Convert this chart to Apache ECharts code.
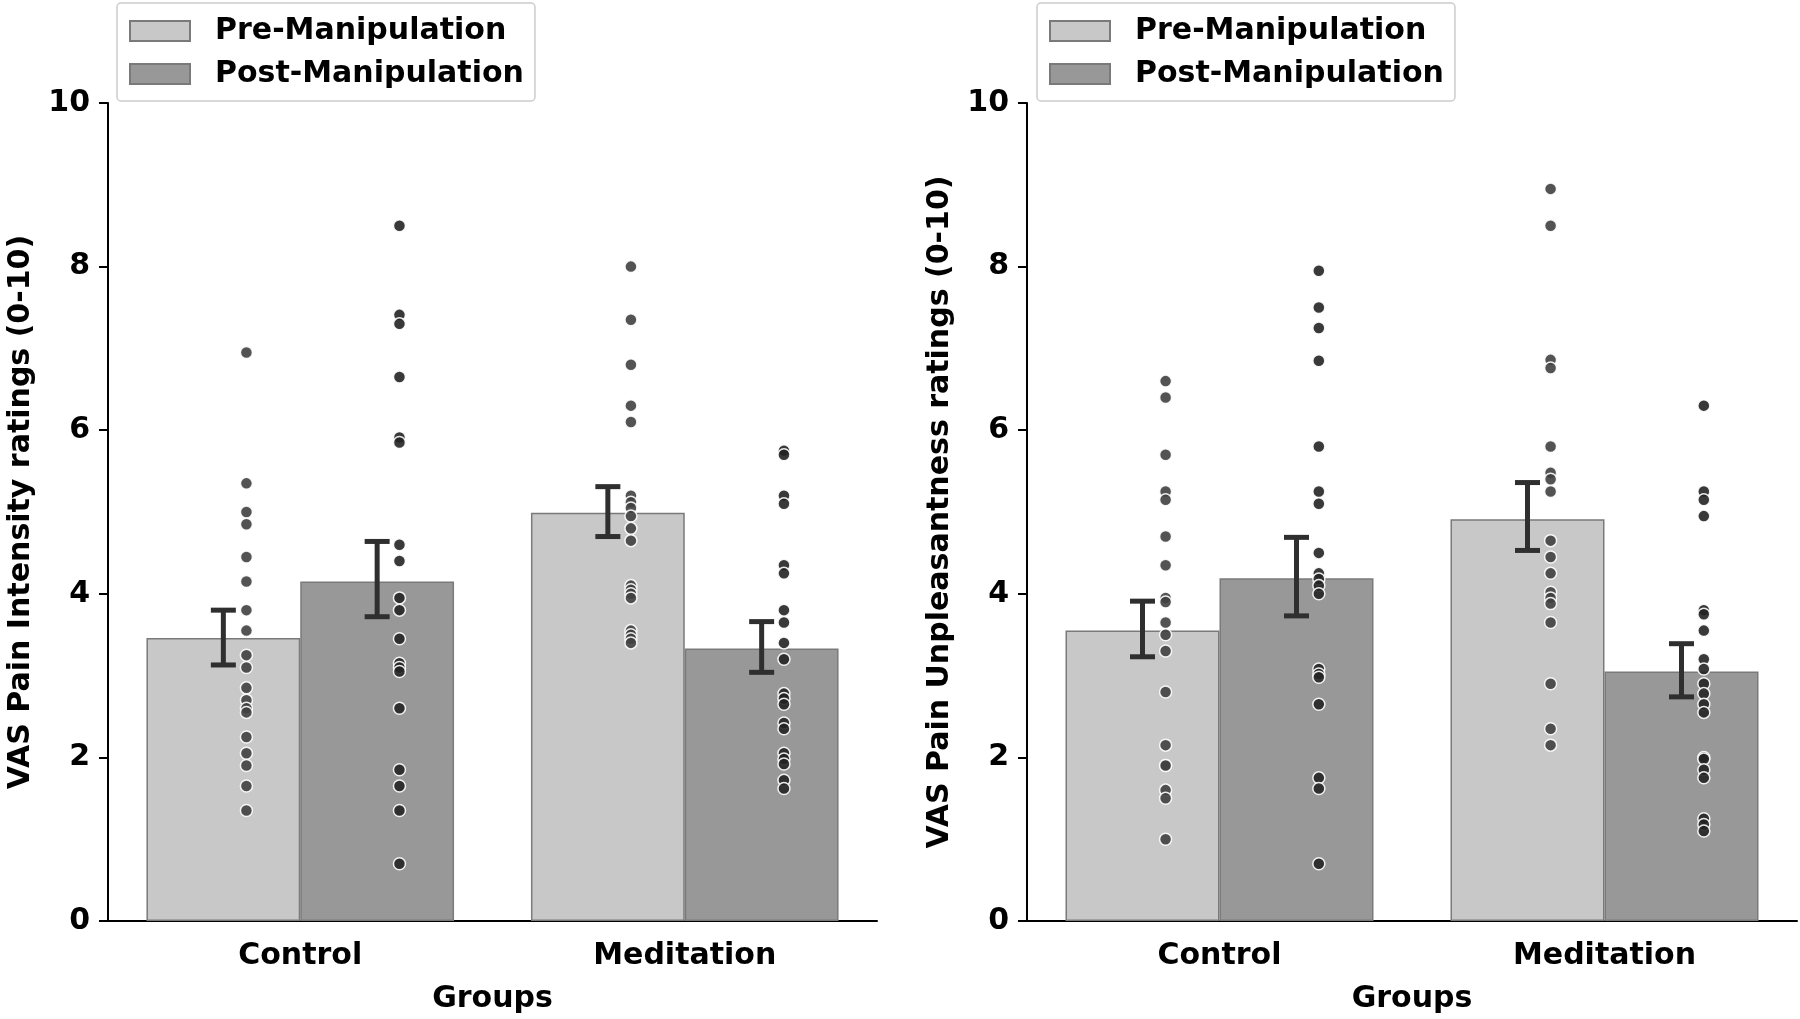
<!DOCTYPE html>
<html>
<head>
<meta charset="utf-8">
<script src="https://cdn.jsdelivr.net/npm/echarts@6/dist/echarts.min.js"></script>
<style>
  html, body { margin: 0; padding: 0; background: #fff; }
  #main { width: 1800px; height: 1019px; }
</style>
</head>
<body>
<div id="main"></div>
<script>
const groups = ['Control', 'Meditation'];
const conditions = ['Pre-Manipulation', 'Post-Manipulation'];
const yTicks = [0, 2, 4, 6, 8, 10];

// VAS pain intensity (left panel)
const intensityPreMean = [3.46, 4.99];
const intensityPostMean = [4.15, 3.33];
const intensityPreErr = [[3.13, 3.80], [4.70, 5.31]];
const intensityPostErr = [[3.72, 4.64], [3.04, 3.66]];
const intensityCtrlPre = [6.95, 5.35, 5.0, 4.85, 4.45, 4.15, 3.8, 3.55, 3.25, 3.1, 2.85, 2.7, 2.6, 2.55, 2.25, 2.05, 1.9, 1.65, 1.35];
const intensityCtrlPost = [8.5, 7.41, 7.3, 6.65, 5.91, 5.85, 4.6, 4.4, 3.95, 3.8, 3.45, 3.15, 3.1, 3.05, 2.6, 1.85, 1.65, 1.35, 0.7];
const intensityMedPre = [8.0, 7.35, 6.8, 6.3, 6.1, 5.2, 5.12, 5.05, 4.95, 4.8, 4.65, 4.1, 4.05, 4.0, 3.95, 3.55, 3.5, 3.45, 3.4];
const intensityMedPost = [5.75, 5.7, 5.2, 5.1, 4.35, 4.25, 3.8, 3.65, 3.4, 3.2, 2.78, 2.72, 2.65, 2.42, 2.35, 2.05, 1.98, 1.92, 1.72, 1.62];

// VAS pain unpleasantness (right panel)
const unpleasPreMean = [3.55, 4.91];
const unpleasPostMean = [4.19, 3.05];
const unpleasPreErr = [[3.23, 3.91], [4.53, 5.36]];
const unpleasPostErr = [[3.73, 4.69], [2.74, 3.39]];
const unpleasCtrlPre = [6.6, 6.4, 5.7, 5.25, 5.15, 4.7, 4.35, 3.95, 3.9, 3.65, 3.5, 3.3, 2.8, 2.15, 1.9, 1.9, 1.6, 1.5, 1.0];
const unpleasCtrlPost = [7.95, 7.5, 7.25, 6.85, 5.8, 5.25, 5.1, 4.5, 4.25, 4.18, 4.1, 4.0, 3.08, 3.02, 2.98, 2.65, 1.75, 1.62, 0.7];
const unpleasMedPre = [8.95, 8.5, 6.86, 6.76, 5.8, 5.48, 5.4, 5.25, 4.65, 4.45, 4.25, 4.02, 3.95, 3.88, 3.65, 2.9, 2.35, 2.15];
const unpleasMedPost = [6.3, 5.25, 5.15, 4.95, 3.8, 3.75, 3.55, 3.2, 3.08, 2.9, 2.78, 2.65, 2.55, 2.0, 1.98, 1.85, 1.75, 1.25, 1.18, 1.1];

const FONT = 'DejaVu Sans';
const PRE_COLOR = '#c8c8c8';
const POST_COLOR = '#989898';
// where the dots and error bars sit inside a category (in category units)
const PRE_DOT = -0.14, POST_DOT = 0.258;
const PRE_BAR = -0.2, POST_BAR = 0.2;

const chart = echarts.init(document.getElementById('main'), null, {renderer: 'canvas'});

function bold(size) {
  return {fontFamily: FONT, fontWeight: 'bold', fontSize: size, color: '#000'};
}

function catAxis(gi) {
  return {
    type: 'category', gridIndex: gi, data: groups,
    name: 'Groups', nameLocation: 'middle', nameGap: 63,
    nameTextStyle: bold(30),
    axisLine: {onZero: false, lineStyle: {color: '#000', width: 2}},
    axisTick: {alignWithLabel: true, length: 9, lineStyle: {color: '#000', width: 2}},
    axisLabel: Object.assign({margin: 20}, bold(30))
  };
}

function hiddenAxis(gi) {
  return {type: 'value', gridIndex: gi, min: -0.5, max: 1.5, show: false};
}

function valAxis(gi, name) {
  return {
    type: 'value', gridIndex: gi, min: yTicks[0], max: yTicks[yTicks.length - 1], interval: 2,
    name: name, nameLocation: 'middle', nameGap: 72, nameRotate: 90,
    nameTextStyle: bold(30),
    axisLine: {show: true, onZero: false, lineStyle: {color: '#000', width: 2}},
    axisTick: {show: true, length: 9, lineStyle: {color: '#000', width: 2}},
    axisLabel: Object.assign({margin: 18}, bold(30)),
    splitLine: {show: false}
  };
}

function legend(left) {
  return {
    data: conditions, orient: 'vertical', left: left, top: 3, icon: 'rect',
    padding: [11, 11, 10, 12], itemGap: 9, itemWidth: 60, itemHeight: 20,
    borderColor: '#cccccc', borderWidth: 1.5, borderRadius: 4, backgroundColor: '#fff',
    textStyle: Object.assign({lineHeight: 34, padding: [0, 0, 0, 20]}, bold(30))
  };
}

function barSeries(name, color, values, axisIdx) {
  return {
    type: 'bar', name: name, xAxisIndex: axisIdx, yAxisIndex: axisIdx / 2,
    data: values, barGap: '0%', barCategoryGap: '20%', z: 2,
    itemStyle: {color: color, borderColor: '#7a7a7a', borderWidth: 1.5}
  };
}

function dotSeries(name, perGroup, offset, color, axisIdx) {
  const data = [];
  perGroup.forEach(function (vals, gi) {
    vals.forEach(function (v) { data.push([gi + offset, v]); });
  });
  return {
    type: 'scatter', name: name, xAxisIndex: axisIdx + 1, yAxisIndex: axisIdx / 2,
    data: data, symbolSize: 12, z: 4,
    itemStyle: {color: color, opacity: 0.9, borderColor: '#fff', borderWidth: 1.5}
  };
}

function errSeries(name, errs, offset, axisIdx) {
  return {
    type: 'custom', name: name, xAxisIndex: axisIdx + 1, yAxisIndex: axisIdx / 2, z: 3,
    data: errs.map(function (e, gi) { return [gi + offset, e[0], e[1]]; }),
    encode: {x: 0, y: [1, 2]},
    renderItem: function (params, api) {
      const lo = api.coord([api.value(0), api.value(1)]);
      const hi = api.coord([api.value(0), api.value(2)]);
      const half = 12.5;
      const style = {stroke: '#2f2f2f', lineWidth: 5};
      return {
        type: 'group',
        children: [
          {type: 'line', shape: {x1: lo[0], y1: lo[1], x2: hi[0], y2: hi[1]}, style: style},
          {type: 'line', shape: {x1: lo[0] - half, y1: lo[1], x2: lo[0] + half, y2: lo[1]}, style: style},
          {type: 'line', shape: {x1: hi[0] - half, y1: hi[1], x2: hi[0] + half, y2: hi[1]}, style: style}
        ]
      };
    }
  };
}

function panel(axisIdx, preMean, postMean, preErr, postErr, preDots, postDots) {
  return [
    barSeries(conditions[0], PRE_COLOR, preMean, axisIdx),
    barSeries(conditions[1], POST_COLOR, postMean, axisIdx),
    errSeries('preErr', preErr, PRE_BAR, axisIdx),
    errSeries('postErr', postErr, POST_BAR, axisIdx),
    dotSeries('preDots', preDots, PRE_DOT, '#404040', axisIdx),
    dotSeries('postDots', postDots, POST_DOT, '#242424', axisIdx)
  ];
}

chart.setOption({
  animation: false,
  backgroundColor: '#fff',
  textStyle: {fontFamily: FONT},
  legend: [legend(117), legend(1037)],
  grid: [
    {left: 108, width: 769, top: 103, bottom: 94},
    {left: 1027, width: 770, top: 103, bottom: 94}
  ],
  xAxis: [catAxis(0), hiddenAxis(0), catAxis(1), hiddenAxis(1)],
  yAxis: [
    valAxis(0, 'VAS Pain Intensity ratings (0-10)'),
    valAxis(1, 'VAS Pain Unpleasantness ratings (0-10)')
  ],
  series: [].concat(
    panel(0, intensityPreMean, intensityPostMean, intensityPreErr, intensityPostErr,
      [intensityCtrlPre, intensityMedPre], [intensityCtrlPost, intensityMedPost]),
    panel(2, unpleasPreMean, unpleasPostMean, unpleasPreErr, unpleasPostErr,
      [unpleasCtrlPre, unpleasMedPre], [unpleasCtrlPost, unpleasMedPost])
  )
});
</script>
</body>
</html>
